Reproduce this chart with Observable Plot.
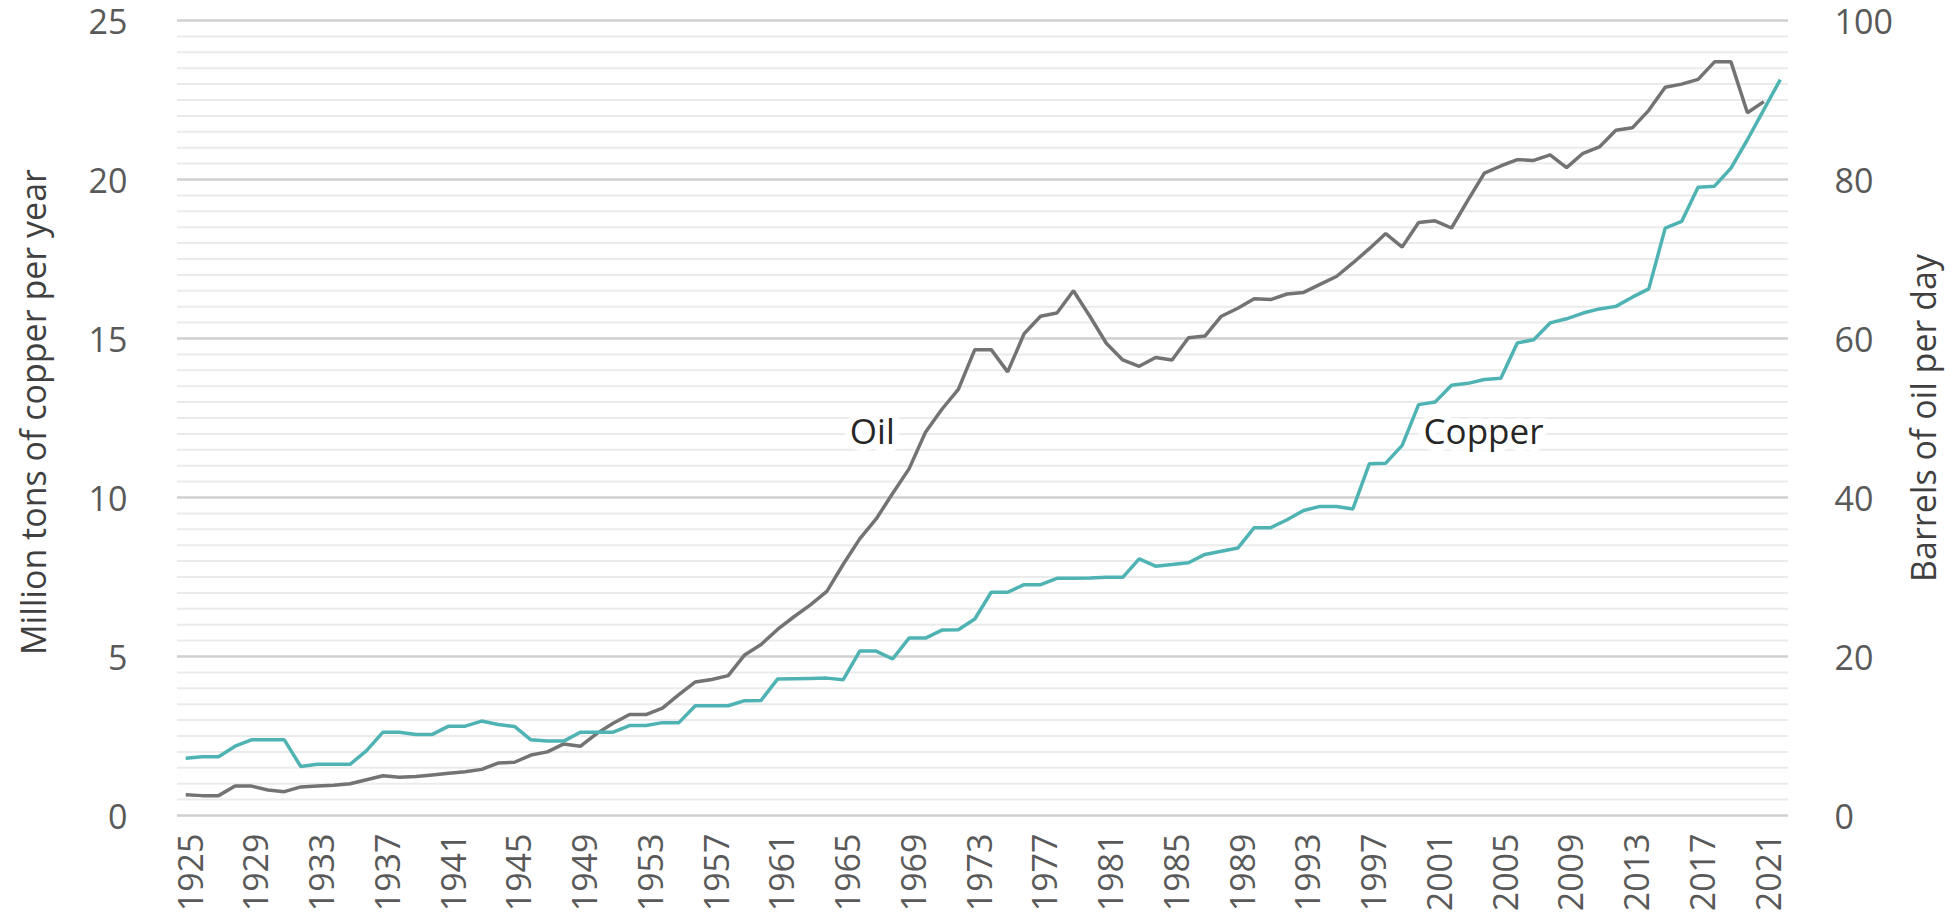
<!DOCTYPE html>
<html>
<head>
<meta charset="utf-8">
<script src="https://cdn.jsdelivr.net/npm/d3@7"></script>
<script src="https://cdn.jsdelivr.net/npm/@observablehq/plot@0.6"></script>
<style>
  html, body { margin: 0; padding: 0; background: #ffffff; }
  #chart svg { display: block; }
</style>
</head>
<body>
<div id="chart"></div>
<script>
// ---- data ----
const years = d3.range(1925, 2023); // 1925..2022

// Million tons of copper per year (left axis)
const copper = [
  1.80, 1.85, 1.85, 2.18, 2.38, 2.38, 2.38, 1.54, 1.61, 1.61,
  1.61, 2.04, 2.62, 2.62, 2.55, 2.55, 2.81, 2.81, 2.97, 2.86,
  2.80, 2.38, 2.34, 2.34, 2.62, 2.62, 2.62, 2.83, 2.83, 2.92,
  2.92, 3.45, 3.45, 3.45, 3.61, 3.62, 4.29, 4.30, 4.31, 4.32,
  4.27, 5.17, 5.17, 4.92, 5.58, 5.58, 5.83, 5.84, 6.18, 7.02,
  7.02, 7.26, 7.26, 7.46, 7.46, 7.47, 7.49, 7.49, 8.07, 7.84,
  7.89, 7.95, 8.21, 8.31, 8.41, 9.05, 9.05, 9.30, 9.59, 9.72,
  9.72, 9.64, 11.06, 11.08, 11.64, 12.92, 13.00, 13.53, 13.59, 13.71,
  13.75, 14.86, 14.96, 15.49, 15.62, 15.80, 15.93, 16.01, 16.30, 16.56,
  18.47, 18.68, 19.76, 19.79, 20.36, 21.25, 22.20, 23.14
];

// Barrels of oil per day (right axis), 1925..2021
const oil = [
  2.6, 2.5, 2.5, 3.7, 3.7, 3.2, 3.0, 3.6, 3.7, 3.8,
  4.0, 4.5, 5.0, 4.8, 4.9, 5.1, 5.3, 5.5, 5.8, 6.6,
  6.7, 7.6, 8.0, 9.0, 8.7, 10.3, 11.6, 12.7, 12.7, 13.5,
  15.2, 16.8, 17.1, 17.6, 20.2, 21.5, 23.4, 25.0, 26.5, 28.2,
  31.6, 34.8, 37.3, 40.5, 43.6, 48.2, 51.1, 53.6, 58.6, 58.6,
  55.8, 60.6, 62.8, 63.2, 66.0, 62.8, 59.4, 57.3, 56.5, 57.6,
  57.3, 60.1, 60.3, 62.8, 63.8, 65.0, 64.9, 65.6, 65.8, 66.8,
  67.8, 69.5, 71.3, 73.2, 71.5, 74.6, 74.8, 73.9, 77.4, 80.8,
  81.7, 82.5, 82.4, 83.1, 81.5, 83.3, 84.1, 86.2, 86.5, 88.7,
  91.6, 92.0, 92.6, 94.8, 94.8, 88.4, 89.8
];

// tick labels
const yearTicks = [1925,1929,1933,1937,1941,1945,1949,1953,1957,1961,1965,1969,1973,1977,1981,1985,1989,1993,1997,2001,2005,2009,2013,2017,2021];
const copperTicks = [0, 5, 10, 15, 20, 25];
const oilTicks = [0, 20, 40, 60, 80, 100];
const oilPerCopper = 4; // right axis = 4 x left axis

// annotations
const labelText = ["Oil", "Copper"];
const labelYear = [1965.4, 2000.3];
const labelValue = [11.69, 11.69];

// axis titles
const leftTitle = "Million tons of copper per year";
const rightTitle = "Barrels of oil per day";

// ---- build ----
const copperData = years.map((y, i) => ({year: y, value: copper[i]}));
const oilData = oil.map((v, i) => ({year: years[i], value: v / oilPerCopper}));
const labels = labelText.map((t, i) => ({text: t, year: labelYear[i], value: labelValue[i]}));

const minorGrid = d3.range(0, 25.001, 0.5).filter(v => v % 5 !== 0);
const majorGrid = copperTicks;

const FONT = "'Segoe UI', 'Open Sans', sans-serif";
const tickColor = "#595959";

const chart = Plot.plot({
  width: 1951,
  height: 915,
  marginLeft: 177,
  marginRight: 163,
  marginTop: 20,
  marginBottom: 100,
  style: {fontFamily: FONT, background: "#ffffff", overflow: "visible"},
  x: {domain: [1924.5, 2022.5], axis: null},
  y: {domain: [0, 25], axis: null},
  marks: [
    Plot.ruleY(minorGrid, {stroke: "#ebebeb", strokeWidth: 2}),
    Plot.ruleY(majorGrid, {stroke: "#d0d0d0", strokeWidth: 2.5}),
    Plot.axisY({anchor: "left", ticks: copperTicks, tickSize: 0, tickPadding: 50,
      fontSize: 34, color: tickColor, label: null, dy: 3}),
    Plot.axisY({anchor: "right", ticks: oilTicks.map(v => v / oilPerCopper),
      tickFormat: d => String(Math.round(d * oilPerCopper)), tickSize: 0, tickPadding: 46,
      fontSize: 34, color: tickColor, label: null, dy: 3}),
    Plot.axisX({ticks: yearTicks, tickFormat: d => String(d), tickRotate: -90,
      tickSize: 0, tickPadding: 18, fontSize: 34, color: tickColor, label: null, dx: 6}),
    Plot.text([leftTitle], {frameAnchor: "left", text: d => d, rotate: -90,
      textAnchor: "middle", lineAnchor: "bottom", dx: -132, dy: -6, fontSize: 34, fill: "#404040"}),
    Plot.text([rightTitle], {frameAnchor: "right", text: d => d, rotate: -90,
      textAnchor: "middle", lineAnchor: "bottom", dx: 147, dy: 0, fontSize: 34, fill: "#404040"}),
    Plot.line(oilData, {x: "year", y: "value", stroke: "#737373", strokeWidth: 3.5,
      strokeLinejoin: "miter", strokeLinecap: "butt"}),
    Plot.line(copperData, {x: "year", y: "value", stroke: "#4fb3b3", strokeWidth: 3.5,
      strokeLinejoin: "miter", strokeLinecap: "butt"}),
    Plot.text(labels, {x: "year", y: "value", text: "text", textAnchor: "start",
      lineAnchor: "bottom", fontSize: 35, fill: "#262626",
      stroke: "#ffffff", strokeWidth: 14, paintOrder: "stroke"})
  ]
});

document.getElementById("chart").appendChild(chart);
</script>
</body>
</html>
